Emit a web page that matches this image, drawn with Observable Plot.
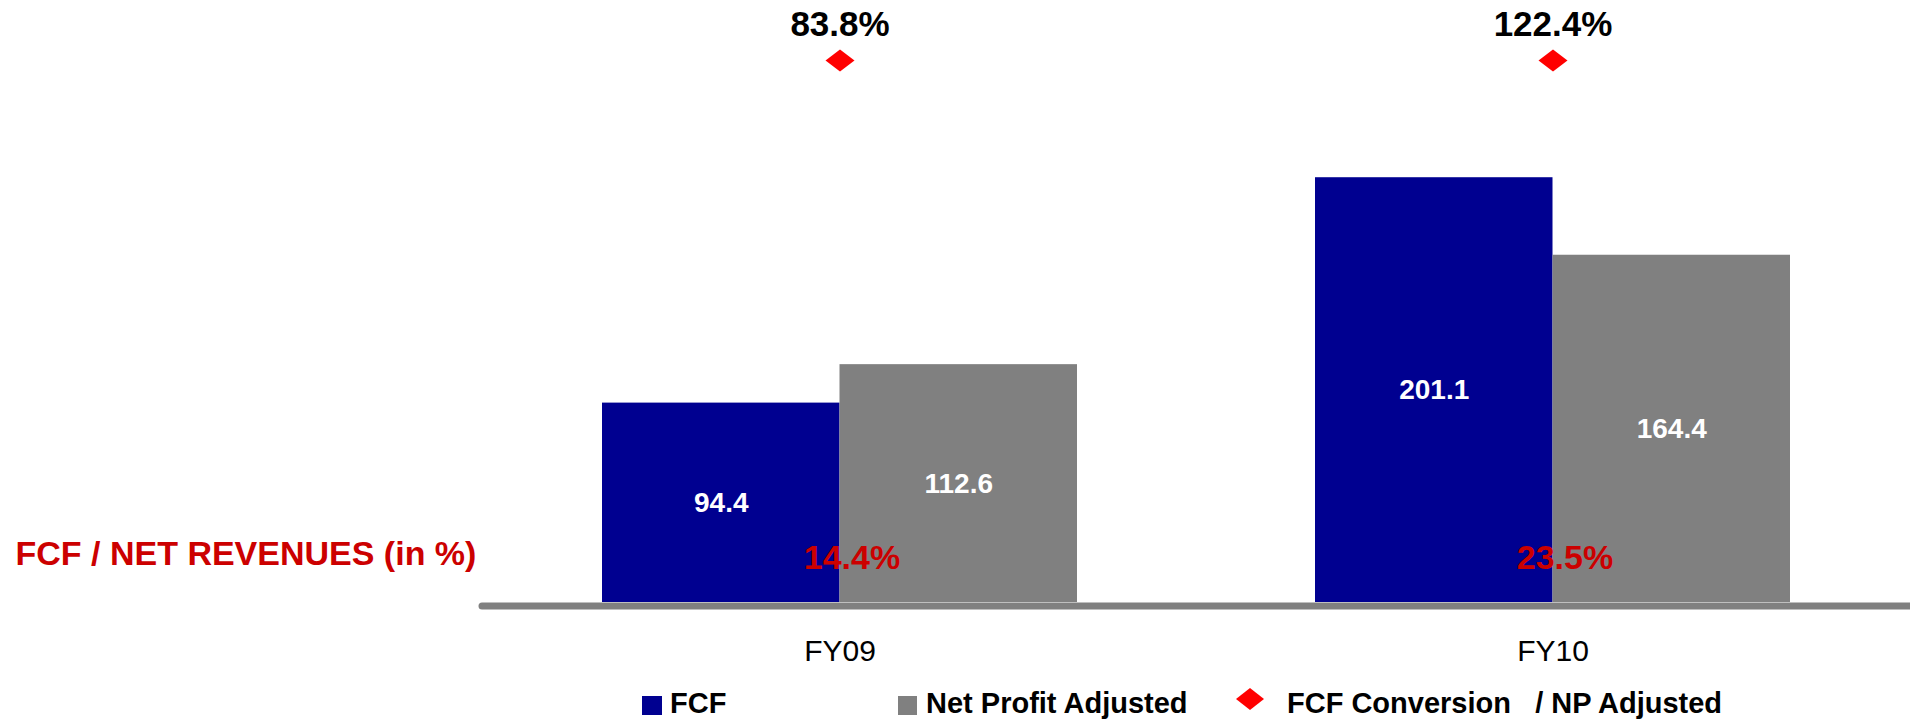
<!DOCTYPE html>
<html>
<head>
<meta charset="utf-8">
<script src="https://cdn.jsdelivr.net/npm/d3@7"></script>
<script src="https://cdn.jsdelivr.net/npm/@observablehq/plot@0.6"></script>
<style>
  html, body { margin: 0; padding: 0; background: #fff; }
  #wrap { position: relative; width: 1910px; height: 720px; overflow: hidden; font-family: "Liberation Sans", Arial, sans-serif; }
  #chart svg { display: block; }
  .lg { position: absolute; font-size: 29px; font-weight: bold; line-height: 29px; white-space: pre; color: #000; }
  .sw { position: absolute; }
</style>
</head>
<body>
<div id="wrap">
  <div id="chart"></div>
  <div id="legend"></div>
</div>
<script>
// ---- data ----
const years = ["FY09", "FY10"];
const fcf = [94.4, 201.1];
const npAdjusted = [112.6, 164.4];
const fcfConversion = [83.8, 122.4];      // FCF / NP Adjusted, %
const fcfOverRevenues = [14.4, 23.5];     // FCF / Net revenues, %
const seriesNames = ["FCF", "Net Profit Adjusted", "FCF Conversion   / NP Adjusted"];
const sideLabel = ["FCF / NET REVENUES (in %)"];

// ---- styles ----
const colFCF = "#000090";
const colNP = "#808080";
const colConv = "#FF0000";
const colPct = "#CC0000";
const font = "'Liberation Sans', Arial, sans-serif";

const rows = years.map((year, i) => ({
  year, fcf: fcf[i], np: npAdjusted[i], conv: fcfConversion[i], pct: fcfOverRevenues[i]
}));

const fmt = d3.format(".1f");
const halfBand = 237.5;
const quarterBand = 118.75;

// flattened diamond symbol
const flatDiamond = {
  draw(context, size) {
    const r = Math.sqrt(size / Math.PI);
    const h = r * 0.76;
    context.moveTo(0, -h);
    context.lineTo(r, 0);
    context.lineTo(0, h);
    context.lineTo(-r, 0);
    context.closePath();
  }
};

const plot = Plot.plot({
  width: 1910,
  height: 680,
  marginLeft: 482,
  marginRight: 0,
  marginTop: 0,
  marginBottom: 78,
  style: { fontFamily: font, background: "#fff", color: "#000" },
  x: { domain: years, paddingInner: 0.3338, paddingOuter: 0.1683, label: null },
  y: { domain: [0, 285], axis: null },
  marks: [
    Plot.barY(rows, { x: "year", y: "fcf", fill: colFCF, insetRight: halfBand }),
    Plot.barY(rows, { x: "year", y: "np", fill: colNP, insetLeft: halfBand }),
    Plot.ruleY([0], { stroke: colNP, strokeWidth: 7, dy: 3.5, strokeLinecap: "round" }),
    Plot.text(rows, { x: "year", y: d => d.fcf / 2, text: d => fmt(d.fcf), dx: -quarterBand,
      fill: "#fff", fontSize: 28, fontWeight: "bold" }),
    Plot.text(rows, { x: "year", y: d => d.np / 2, text: d => fmt(d.np), dx: quarterBand,
      fill: "#fff", fontSize: 28, fontWeight: "bold" }),
    Plot.text(rows, { x: "year", text: d => fmt(d.pct) + "%", frameAnchor: "bottom", lineAnchor: "bottom",
      dx: 12, dy: -34, fill: colPct, fontSize: 34, fontWeight: "bold" }),
    Plot.dot(rows, { x: "year", frameAnchor: "top", dy: 60, r: 14.5, symbol: flatDiamond,
      fill: colConv, stroke: "none" }),
    Plot.text(rows, { x: "year", text: d => fmt(d.conv) + "%", frameAnchor: "top", lineAnchor: "bottom",
      dy: 35.5, fill: "#000", fontSize: 35, fontWeight: "bold" }),
    Plot.text(sideLabel, { text: d => d, frameAnchor: "bottom-left", textAnchor: "start", lineAnchor: "bottom",
      dx: -467, dy: -38, fill: colPct, fontSize: 34, fontWeight: "bold" }),
    Plot.axisX({ tickSize: 0, tickPadding: 37, fontSize: 30, fill: "#000", label: null })
  ]
});
document.getElementById("chart").appendChild(plot);

// ---- legend (HTML below the SVG) ----
const legend = document.getElementById("legend");
const items = [
  { name: seriesNames[0], color: colFCF, kind: "square", swLeft: 642, swTop: 696, w: 20, h: 19, textLeft: 670 },
  { name: seriesNames[1], color: colNP, kind: "square", swLeft: 898, swTop: 696, w: 19, h: 19, textLeft: 926 },
  { name: seriesNames[2], color: colConv, kind: "diamond", swLeft: 1236, swTop: 688, w: 28, h: 22, textLeft: 1287 }
];
items.forEach(it => {
  const sw = document.createElement("div");
  sw.className = "sw";
  sw.style.left = it.swLeft + "px";
  sw.style.top = it.swTop + "px";
  sw.style.width = it.w + "px";
  sw.style.height = it.h + "px";
  sw.style.background = it.color;
  if (it.kind === "diamond") sw.style.clipPath = "polygon(50% 0, 100% 50%, 50% 100%, 0 50%)";
  legend.appendChild(sw);
  const t = document.createElement("div");
  t.className = "lg";
  t.style.left = it.textLeft + "px";
  t.style.top = "689px";
  t.textContent = it.name;
  legend.appendChild(t);
});
</script>
</body>
</html>
